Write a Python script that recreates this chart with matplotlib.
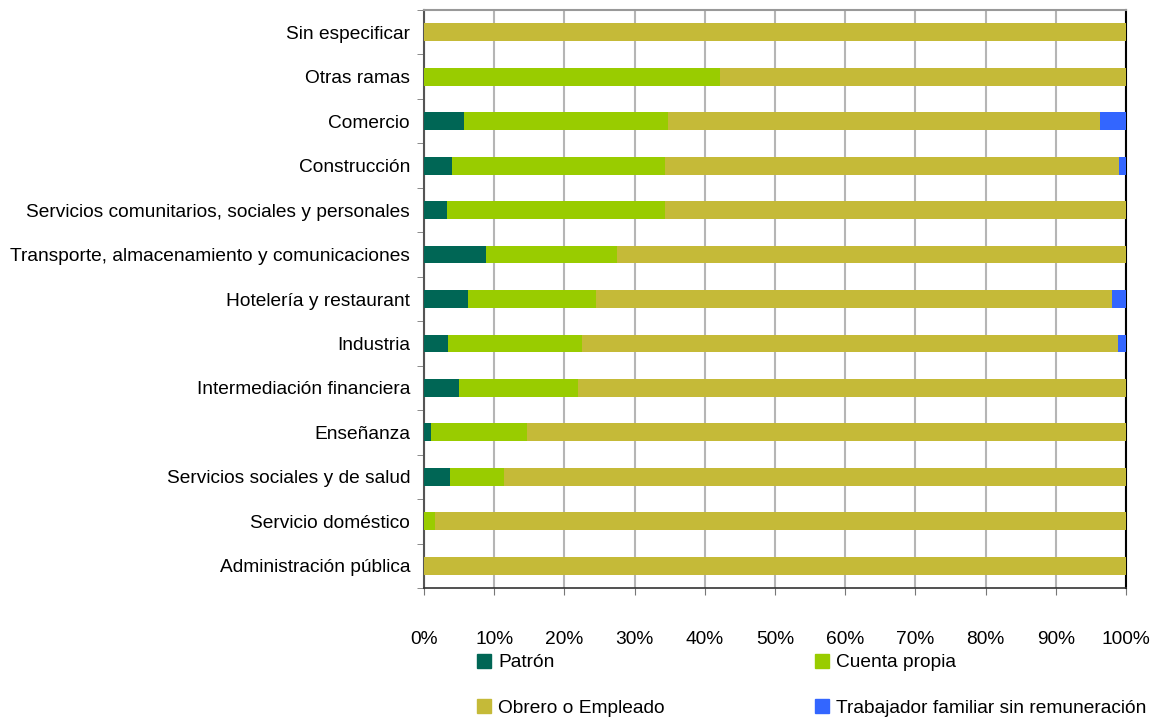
import matplotlib
matplotlib.use("Agg")
import matplotlib.pyplot as plt
from matplotlib.lines import Line2D
import numpy as np

plt.rcParams['font.family'] = ['Liberation Sans', 'DejaVu Sans']

categories = [
    "Administración pública",
    "Servicio doméstico",
    "Servicios sociales y de salud",
    "Enseñanza",
    "Intermediación financiera",
    "Industria",
    "Hotelería y restaurant",
    "Transporte, almacenamiento y comunicaciones",
    "Servicios comunitarios, sociales y personales",
    "Construcción",
    "Comercio",
    "Otras ramas",
    "Sin especificar",
]
patron = [0.0, 0.0, 3.7, 1.0, 5.0, 3.4, 6.3, 8.8, 3.3, 4.0, 5.7, 0.0, 0.0]
cuenta_propia = [0.0, 1.6, 7.7, 13.7, 16.9, 19.1, 18.2, 18.7, 31.0, 30.3, 29.0, 42.2, 0.0]
familiar = [0.0, 0.0, 0.0, 0.0, 0.0, 1.1, 2.0, 0.0, 0.0, 1.0, 3.7, 0.0, 0.0]
obrero = [100 - p - c - f for p, c, f in zip(patron, cuenta_propia, familiar)]

series = [
    ("Patrón", patron, "#006655"),
    ("Cuenta propia", cuenta_propia, "#99CC00"),
    ("Obrero o Empleado", obrero, "#C5BA38"),
    ("Trabajador familiar sin remuneración", familiar, "#3366FF"),
]

fig = plt.figure(figsize=(11.58, 7.17), dpi=100)
ax = fig.add_axes([424/1158, 1-588/717, (1126-424)/1158, (588-10)/717])

y = np.arange(len(categories))
left = np.zeros(len(categories))
for name, vals, col in series:
    vals = np.array(vals)
    ax.barh(y, vals, left=left, height=0.4, color=col, label=name, zorder=3)
    left += vals

fs = 13.8
ax.set_xlim(0, 100)
ax.set_ylim(-0.5, len(categories) - 0.5)
ax.set_xticks(np.arange(0, 101, 10))
ax.set_xticklabels([f"{v}%" for v in range(0, 101, 10)], fontsize=fs)
ax.set_yticks(y)
ax.set_yticklabels(categories, fontsize=fs)
ax.tick_params(axis='y', length=0, pad=10)
ax.set_yticks(np.arange(-0.5, len(categories), 1), minor=True)
ax.tick_params(axis='y', which='minor', length=5, color='#777777', direction='out')
ax.tick_params(axis='x', length=5, color='#777777', direction='out', pad=26)

ax.xaxis.grid(True, color='#B5B5B5', linewidth=1.5, zorder=0)
ax.set_axisbelow(True)

ax.spines['left'].set_color('#555555')
ax.spines['left'].set_linewidth(1.5)
ax.spines['bottom'].set_color('#333333')
ax.spines['bottom'].set_linewidth(1.2)
ax.spines['top'].set_color('#999999')
ax.spines['top'].set_linewidth(1.5)
ax.spines['right'].set_color('#000000')
ax.spines['right'].set_linewidth(1.5)

handles = [Line2D([], [], marker='s', linestyle='none', markersize=10,
                  markerfacecolor=c, markeredgecolor=c) for _, _, c in series]
labels = [n for n, _, _ in series]
order = [0, 2, 1, 3]
fig.legend([handles[i] for i in order], [labels[i] for i in order],
           ncol=2, loc='upper left', bbox_to_anchor=(478/1158, 1-654/717),
           frameon=False, fontsize=fs, handlelength=0.6, handletextpad=0.45,
           labelspacing=1.45, columnspacing=7.9, borderpad=0, borderaxespad=0)

fig.savefig("out.png", dpi=100)
